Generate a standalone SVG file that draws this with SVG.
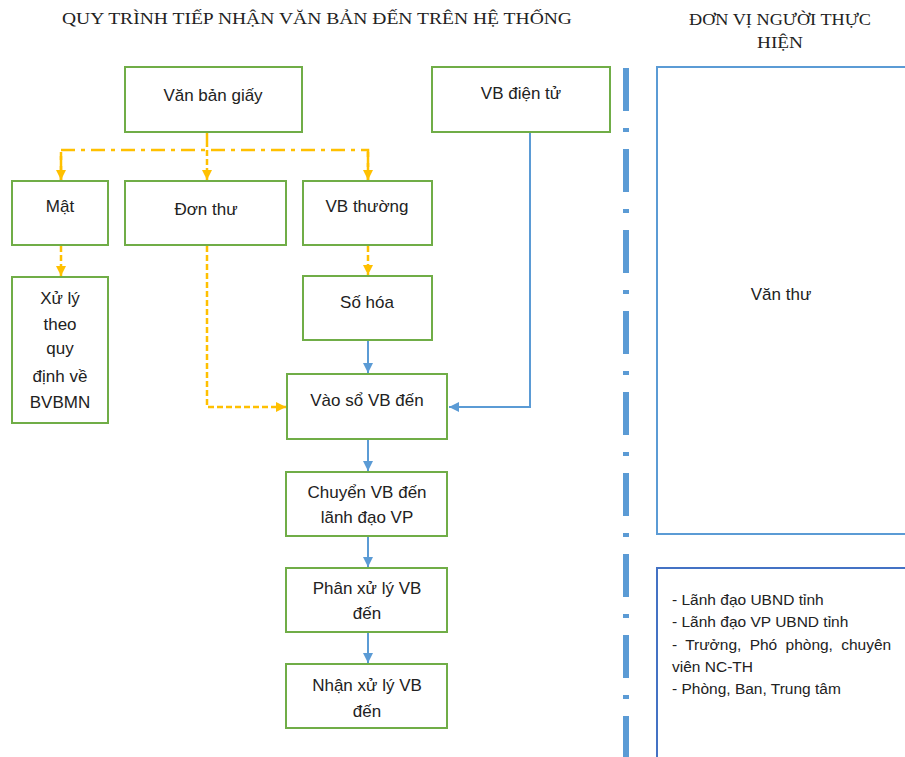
<svg xmlns="http://www.w3.org/2000/svg" width="905" height="757" viewBox="0 0 905 757">
<style>
.box{fill:#fff;stroke:#70AD47;stroke-width:2}
.t{font-family:"Liberation Sans",Arial,sans-serif;font-size:17px;fill:#222;text-anchor:middle}
.s{font-family:"Liberation Sans",Arial,sans-serif;font-size:15.5px;fill:#222}
.h{font-family:"Liberation Serif","Times New Roman",serif;font-size:17px;fill:#222;text-anchor:middle}
.or{fill:none;stroke:#FFC000;stroke-width:2.5}
.bl{fill:none;stroke:#5B9BD5;stroke-width:2}
</style>
<defs>
<marker id="ao" markerUnits="userSpaceOnUse" markerWidth="12" markerHeight="10" refX="10" refY="5" orient="auto">
<path d="M0,0 L10,5 L0,10 z" fill="#FFC000"/>
</marker>
<marker id="ab" markerUnits="userSpaceOnUse" markerWidth="12" markerHeight="10" refX="10" refY="5" orient="auto">
<path d="M0,0 L10,5 L0,10 z" fill="#5B9BD5"/>
</marker>
</defs>
<rect width="905" height="757" fill="#fff"/>
<text class="h" x="317" y="24" textLength="510" lengthAdjust="spacingAndGlyphs">QUY TRÌNH TIẾP NHẬN VĂN BẢN ĐẾN TRÊN HỆ THỐNG</text>
<text class="h" x="780" y="25" textLength="182" lengthAdjust="spacingAndGlyphs">ĐƠN VỊ NGƯỜI THỰC</text>
<text class="h" x="780" y="48" textLength="46" lengthAdjust="spacingAndGlyphs">HIỆN</text>

<g id="connectors">
<path class="or" d="M207,133 V150" stroke-dasharray="14 6 4 6"/>
<path class="or" d="M61,180 V150 H368 V180" stroke-dasharray="14 6 4 6"/>
<path class="or" d="M61,152 V180" marker-end="url(#ao)"/>
<path class="or" d="M207,150 V180" stroke-dasharray="6 3" marker-end="url(#ao)"/>
<path class="or" d="M368,152 V180" marker-end="url(#ao)"/>
<path class="or" d="M61,246 V276" stroke-dasharray="6 3" marker-end="url(#ao)"/>
<path class="or" d="M368,246 V275" stroke-dasharray="6 3" marker-end="url(#ao)"/>
<path class="or" d="M207,246 V407 H286" stroke-dasharray="6 3" marker-end="url(#ao)"/>
<path class="bl" d="M368,341 V373" marker-end="url(#ab)"/>
<path class="bl" d="M530,133 V407 H449" marker-end="url(#ab)"/>
<path class="bl" d="M368,440 V471" marker-end="url(#ab)"/>
<path class="bl" d="M368,537 V567" marker-end="url(#ab)"/>
<path class="bl" d="M368,633 V663" marker-end="url(#ab)"/>
<path d="M626,68 V757" stroke="#5B9BD5" stroke-width="6" stroke-dasharray="43 17 4 17"/>
</g>

<g id="van-ban-giay"><rect class="box" x="125" y="67" width="177" height="65"/><text class="t" x="213" y="101">Văn bản giấy</text></g>
<g id="vb-dien-tu"><rect class="box" x="432" y="67" width="178" height="65"/><text class="t" x="521" y="99">VB điện tử</text></g>
<g id="mat"><rect class="box" x="12" y="181" width="96" height="64"/><text class="t" x="60" y="212">Mật</text></g>
<g id="don-thu"><rect class="box" x="125" y="181" width="161" height="64"/><text class="t" x="206" y="215">Đơn thư</text></g>
<g id="vb-thuong"><rect class="box" x="303" y="181" width="129" height="64"/><text class="t" x="367" y="212">VB thường</text></g>
<g id="xu-ly"><rect class="box" x="12" y="277" width="96" height="146"/>
<text class="t" x="60" y="304">Xử lý</text><text class="t" x="60" y="330">theo</text><text class="t" x="60" y="354">quy</text><text class="t" x="60" y="382">định về</text><text class="t" x="60" y="408">BVBMN</text></g>
<g id="so-hoa"><rect class="box" x="303" y="276" width="129" height="64"/><text class="t" x="367" y="308">Số hóa</text></g>
<g id="vao-so"><rect class="box" x="287" y="374" width="160" height="65"/><text class="t" x="367" y="406">Vào sổ VB đến</text></g>
<g id="chuyen"><rect class="box" x="286" y="472" width="161" height="64"/><text class="t" x="367" y="498">Chuyển VB đến</text><text class="t" x="367" y="523">lãnh đạo VP</text></g>
<g id="phan"><rect class="box" x="286" y="568" width="161" height="64"/><text class="t" x="367" y="594">Phân xử lý VB</text><text class="t" x="367" y="619">đến</text></g>
<g id="nhan"><rect class="box" x="286" y="664" width="161" height="64"/><text class="t" x="367" y="691">Nhận xử lý VB</text><text class="t" x="367" y="717">đến</text></g>

<g id="van-thu"><rect x="657" y="67" width="260" height="467" fill="#fff" stroke="#5B9BD5" stroke-width="2"/><text class="t" x="781" y="300">Văn thư</text></g>
<g id="don-vi"><rect x="657" y="568" width="260" height="200" fill="#fff" stroke="#4472C4" stroke-width="2"/>
<text class="s" x="672" y="605">- Lãnh đạo UBND tỉnh</text>
<text class="s" x="672" y="627">- Lãnh đạo VP UBND tỉnh</text>
<text class="s" x="672" y="650" word-spacing="4">- Trưởng, Phó phòng, chuyên</text>
<text class="s" x="672" y="672">viên NC-TH</text>
<text class="s" x="672" y="694">- Phòng, Ban, Trung tâm</text>
</g>
</svg>
